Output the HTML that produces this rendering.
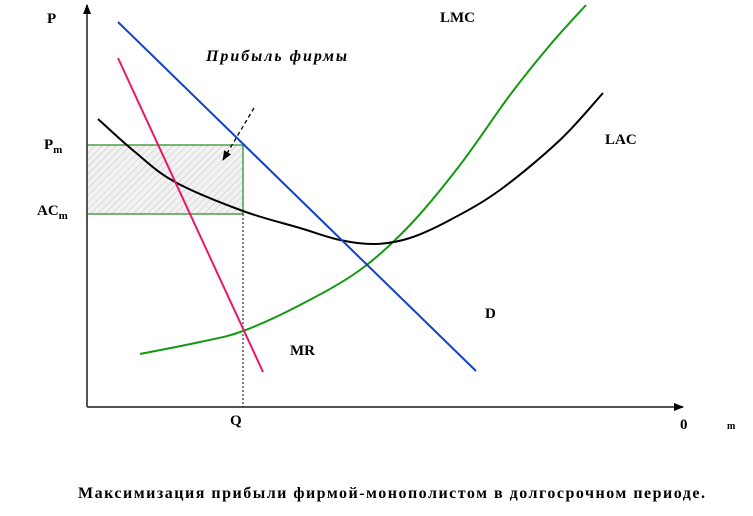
<!DOCTYPE html>
<html><head><meta charset="utf-8"><style>
body{margin:0;background:#fff}
svg text{font-family:"Liberation Serif",serif;font-weight:bold}
</style></head><body>
<svg width="753" height="511">
<defs>
<pattern id="hatch" width="5" height="5" patternUnits="userSpaceOnUse" patternTransform="rotate(45)">
<rect width="5" height="5" fill="#f2f2f2"/><line x1="0" y1="0" x2="0" y2="5" stroke="#c4c4c4" stroke-width="1"/></pattern>
<marker id="ah" markerUnits="userSpaceOnUse" markerWidth="10" markerHeight="10" refX="9" refY="5" orient="auto"><path d="M0,1L10,5L0,9z" fill="#000"/></marker>
</defs>
<g id="plot"></g>
<text x="47" y="23" font-size="15">P</text>
<text x="440" y="22" font-size="15">LMC</text>
<text x="206" y="61" font-size="16" font-style="italic" textLength="141">Прибыль фирмы</text>
<text x="605" y="144" font-size="15">LAC</text>
<text x="44" y="149" font-size="15">P<tspan font-size="11" dy="4">m</tspan></text>
<text x="37" y="215" font-size="15">AC<tspan font-size="11" dy="4">m</tspan></text>
<text x="485" y="318" font-size="15">D</text>
<text x="290" y="355" font-size="15">MR</text>
<text x="230" y="425" font-size="15">Q</text>
<text x="680" y="429" font-size="15">0</text>
<text x="727" y="429" font-size="10">m</text>
<text x="78" y="498" font-size="16" textLength="627">Максимизация прибыли фирмой-монополистом в долгосрочном периоде.</text>
</svg>
<script>
const dLine=[[118,22],[476,371]];
const mrLine=[[118,58],[263,372]];
const lmc=[[140,354],[200,342],[243,331],[300,305],[360,270],[410,225],[460,165],[510,95],[550,45],[586,5]];
const lac=[[98,119],[135,152],[175,182],[243,211],[300,228],[340,240],[375,244],[410,238],[450,220],[500,190],[560,140],[603,93]];
const pm=145, acm=214, qm=243;
const X0=87, Y0=407;
const g=document.getElementById('plot');
const NS='http://www.w3.org/2000/svg';
function el(t,a){const e=document.createElementNS(NS,t);for(const k in a)e.setAttribute(k,a[k]);g.appendChild(e);return e;}
function smooth(p){let d='M'+p[0][0]+','+p[0][1];for(let i=0;i<p.length-1;i++){const p0=p[i-1]||p[i],p1=p[i],p2=p[i+1],p3=p[i+2]||p2;
d+=' C'+(p1[0]+(p2[0]-p0[0])/6)+','+(p1[1]+(p2[1]-p0[1])/6)+' '+(p2[0]-(p3[0]-p1[0])/6)+','+(p2[1]-(p3[1]-p1[1])/6)+' '+p2[0]+','+p2[1];}return d;}
let r=el('rect',{x:X0,y:pm,width:qm-X0,height:acm-pm,fill:'url(#hatch)',stroke:'#228822','stroke-width':1.2});


let a=el('line',{x1:X0,y1:Y0,x2:X0,y2:5,stroke:'#555','stroke-width':2,'marker-end':'url(#ah)'});


a=el('line',{x1:X0,y1:Y0,x2:683,y2:Y0,stroke:'#555','stroke-width':2,'marker-end':'url(#ah)'});


a=el('line',{x1:qm,y1:acm,x2:qm,y2:Y0,stroke:'#000','stroke-width':1,'stroke-dasharray':'2,2'});


a=el('line',{x1:254,y1:108,x2:223,y2:160,stroke:'#000','stroke-width':1.3,'stroke-dasharray':'4,3','marker-end':'url(#ah)'});


a=el('path',{d:smooth(lmc),fill:'none',stroke:'#119911','stroke-width':2});


a=el('path',{d:smooth(lac),fill:'none',stroke:'#000','stroke-width':2});


a=el('line',{x1:dLine[0][0],y1:dLine[0][1],x2:dLine[1][0],y2:dLine[1][1],stroke:'#1040cc','stroke-width':2});


a=el('line',{x1:mrLine[0][0],y1:mrLine[0][1],x2:mrLine[1][0],y2:mrLine[1][1],stroke:'#e8186a','stroke-width':2});


</script>
</body></html>
